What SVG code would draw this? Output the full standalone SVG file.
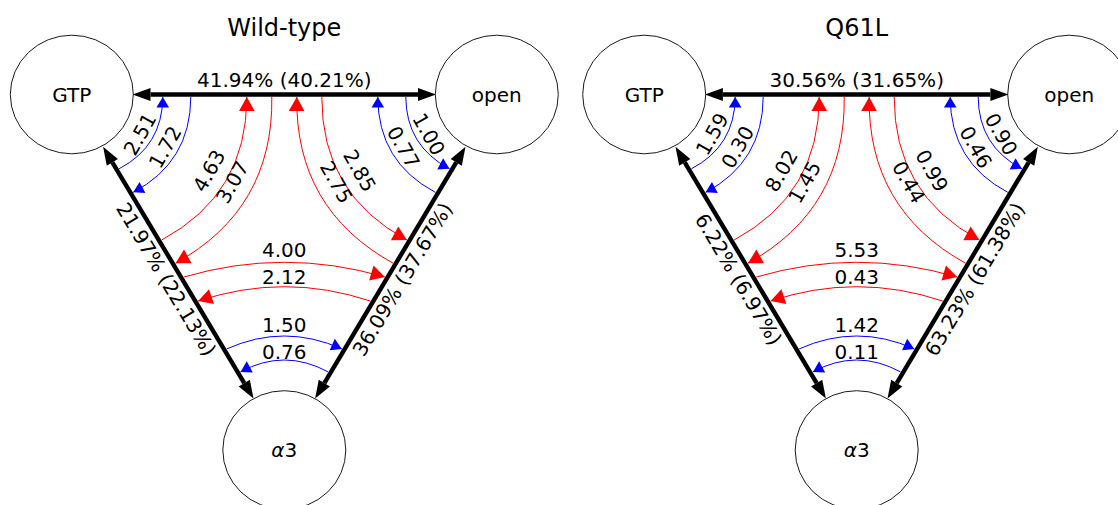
<svg xmlns="http://www.w3.org/2000/svg" width="1118" height="505" viewBox="0 0 1118 505">
<defs>
<style>
text{font-family:"DejaVu Sans","Liberation Sans",sans-serif;fill:#000}
.title{font-size:24px;text-anchor:middle}
.nl{font-size:20px;text-anchor:middle}
.lbl{font-size:20px;text-anchor:middle}
.node ellipse{fill:none;stroke:#1a1a1a;stroke-width:1}
.edge{fill:none;stroke:#000;stroke-width:4.4;marker-start:url(#hk);marker-end:url(#hk)}
.b{fill:none;stroke:#0000ff;stroke-width:1;marker-end:url(#hb)}
.r{fill:none;stroke:#ff0000;stroke-width:1;marker-end:url(#hr)}
</style>
<marker id="hk" markerUnits="userSpaceOnUse" orient="auto-start-reverse" refX="0" refY="0" markerWidth="1" markerHeight="1" overflow="visible"><path d="M0,-6.5 L18,0 L0,6.5 z" fill="#000"/></marker>
<marker id="hb" markerUnits="userSpaceOnUse" orient="auto" refX="0" refY="0" markerWidth="1" markerHeight="1" overflow="visible"><path d="M0,0 L-10.5,-6.3 L-10.5,6.3 z" fill="#0000ff"/></marker>
<marker id="hr" markerUnits="userSpaceOnUse" orient="auto" refX="0" refY="0" markerWidth="1" markerHeight="1" overflow="visible"><path d="M0,0 L-14,-7.8 L-14,7.8 z" fill="#ff0000"/></marker>
</defs>

<!-- Left panel: Wild-type -->
<g id="panel-wt">
<text class="title" x="284.3" y="36">Wild-type</text>
<g id="wt-GTP" class="node"><ellipse cx="71.8" cy="94.5" rx="61.5" ry="59.3"/><text class="nl" x="71.8" y="101.5">GTP</text></g>
<g id="wt-open" class="node"><ellipse cx="496.8" cy="94.5" rx="61.5" ry="59.3"/><text class="nl" x="496.8" y="101.5">open</text></g>
<g id="wt-a3" class="node"><ellipse cx="284.3" cy="450" rx="61.5" ry="59.3"/><text class="nl" x="284.3" y="457"><tspan font-style="italic">α</tspan>3</text></g>
<g id="wt-connectors">
<path class="edge" d="M150.5,94.5 L418,94.5"/>
<path class="edge" d="M112.34,162.31 L244.26,383.05"/>
<path class="edge" d="M456.26,162.31 L324.34,383.05"/>
<path class="b" d="M119.1,168.76 Q162.48,145.99 162.8,97"/>
<path class="b" d="M190.8,97 Q190.61,161.97 133.21,192.37"/>
<path class="r" d="M161.69,240.01 Q247.15,194.03 246.8,97"/>
<path class="r" d="M271.8,97 Q273.52,208.96 175.54,263.18"/>
<path class="b" d="M405.8,97 Q406.12,145.99 449.5,168.76"/>
<path class="b" d="M435.39,192.37 Q377.99,161.97 377.8,97"/>
<path class="r" d="M321.8,97 Q321.45,194.03 406.91,240.01"/>
<path class="r" d="M393.06,263.18 Q295.08,208.96 296.8,97"/>
<path class="r" d="M183.83,277.04 Q284.3,247.5 384.77,277.04"/>
<path class="r" d="M370.4,301.08 Q284.3,272.3 198.2,301.08"/>
<path class="b" d="M226.78,348.89 Q284.3,323.1 341.82,348.89"/>
<path class="b" d="M328.07,371.89 Q284.3,348.1 240.53,371.89"/>
<text class="lbl" x="284.3" y="87">41.94% (40.21%)</text>
<text class="lbl" transform="translate(178.05,272.25) rotate(59.13)" x="0" y="20.8">21.97% (22.13%)</text>
<text class="lbl" transform="translate(390.55,272.25) rotate(-59.13)" x="0" y="20.8">36.09% (37.67%)</text>
<text class="lbl" transform="translate(139.6,134) rotate(-60.43)" y="7.3">2.51</text>
<text class="lbl" transform="translate(165,147) rotate(-60.43)" y="7.3">1.72</text>
<text class="lbl" transform="translate(208.8,170.6) rotate(-60.43)" y="7.3">4.63</text>
<text class="lbl" transform="translate(232.1,182) rotate(-60.43)" y="7.3">3.07</text>
<text class="lbl" transform="translate(429,134) rotate(60.43)" y="7.3">1.00</text>
<text class="lbl" transform="translate(403.6,147) rotate(60.43)" y="7.3">0.77</text>
<text class="lbl" transform="translate(359.8,170.6) rotate(60.43)" y="7.3">2.85</text>
<text class="lbl" transform="translate(336.5,182) rotate(60.43)" y="7.3">2.75</text>
<text class="lbl" x="284.3" y="257.3">4.00</text>
<text class="lbl" x="284.3" y="284">2.12</text>
<text class="lbl" x="284.3" y="331.6">1.50</text>
<text class="lbl" x="284.3" y="359">0.76</text>
</g>
</g>

<!-- Right panel: Q61L -->
<g id="panel-q61l" transform="translate(572.4,0)">
<text class="title" x="284.3" y="36">Q61L</text>
<g id="q-GTP" class="node"><ellipse cx="71.8" cy="94.5" rx="61.5" ry="59.3"/><text class="nl" x="71.8" y="101.5">GTP</text></g>
<g id="q-open" class="node"><ellipse cx="496.8" cy="94.5" rx="61.5" ry="59.3"/><text class="nl" x="496.8" y="101.5">open</text></g>
<g id="q-a3" class="node"><ellipse cx="284.3" cy="450" rx="61.5" ry="59.3"/><text class="nl" x="284.3" y="457"><tspan font-style="italic">α</tspan>3</text></g>
<g id="q-connectors">
<path class="edge" d="M150.5,94.5 L418,94.5"/>
<path class="edge" d="M112.34,162.31 L244.26,383.05"/>
<path class="edge" d="M456.26,162.31 L324.34,383.05"/>
<path class="b" d="M119.1,168.76 Q162.48,145.99 162.8,97"/>
<path class="b" d="M190.8,97 Q190.61,161.97 133.21,192.37"/>
<path class="r" d="M161.69,240.01 Q247.15,194.03 246.8,97"/>
<path class="r" d="M271.8,97 Q273.52,208.96 175.54,263.18"/>
<path class="b" d="M405.8,97 Q406.12,145.99 449.5,168.76"/>
<path class="b" d="M435.39,192.37 Q377.99,161.97 377.8,97"/>
<path class="r" d="M321.8,97 Q321.45,194.03 406.91,240.01"/>
<path class="r" d="M393.06,263.18 Q295.08,208.96 296.8,97"/>
<path class="r" d="M183.83,277.04 Q284.3,247.5 384.77,277.04"/>
<path class="r" d="M370.4,301.08 Q284.3,272.3 198.2,301.08"/>
<path class="b" d="M226.78,348.89 Q284.3,323.1 341.82,348.89"/>
<path class="b" d="M328.07,371.89 Q284.3,348.1 240.53,371.89"/>
<text class="lbl" x="284.3" y="87">30.56% (31.65%)</text>
<text class="lbl" transform="translate(178.05,272.25) rotate(59.13)" x="0" y="20.8">6.22% (6.97%)</text>
<text class="lbl" transform="translate(390.55,272.25) rotate(-59.13)" x="0" y="20.8">63.23% (61.38%)</text>
<text class="lbl" transform="translate(139.6,134) rotate(-60.43)" y="7.3">1.59</text>
<text class="lbl" transform="translate(165,147) rotate(-60.43)" y="7.3">0.30</text>
<text class="lbl" transform="translate(208.8,170.6) rotate(-60.43)" y="7.3">8.02</text>
<text class="lbl" transform="translate(232.1,182) rotate(-60.43)" y="7.3">1.45</text>
<text class="lbl" transform="translate(429,134) rotate(60.43)" y="7.3">0.90</text>
<text class="lbl" transform="translate(403.6,147) rotate(60.43)" y="7.3">0.46</text>
<text class="lbl" transform="translate(359.8,170.6) rotate(60.43)" y="7.3">0.99</text>
<text class="lbl" transform="translate(336.5,182) rotate(60.43)" y="7.3">0.44</text>
<text class="lbl" x="284.3" y="257.3">5.53</text>
<text class="lbl" x="284.3" y="284">0.43</text>
<text class="lbl" x="284.3" y="331.6">1.42</text>
<text class="lbl" x="284.3" y="359">0.11</text>
</g>
</g>
</svg>
